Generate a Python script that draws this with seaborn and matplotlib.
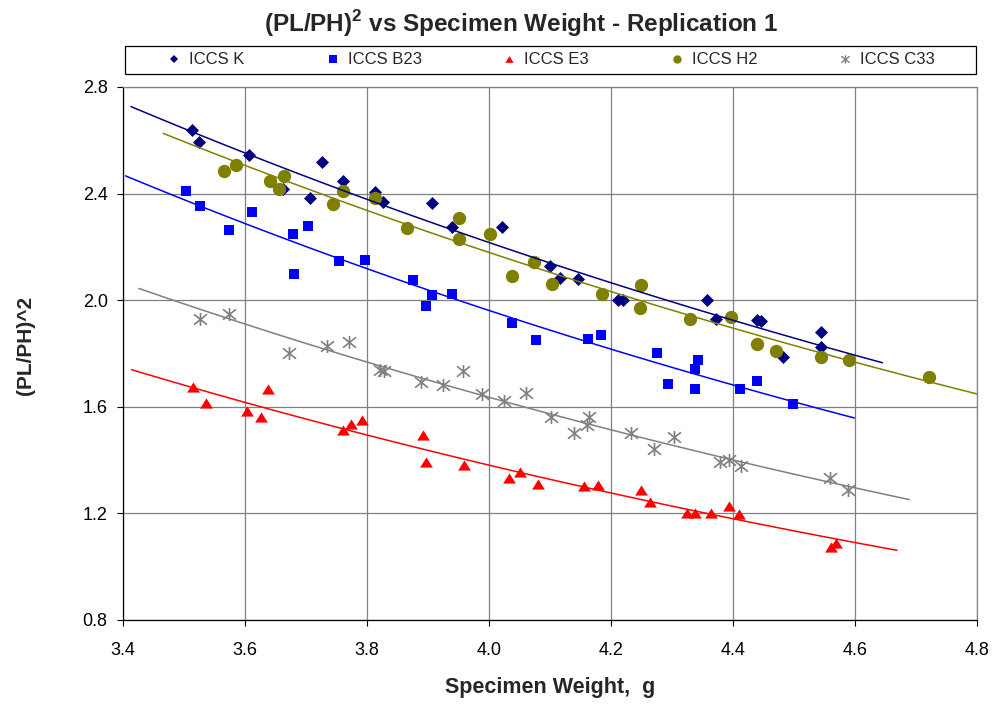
import numpy as np
import pandas as pd
import matplotlib
matplotlib.use("Agg")
import matplotlib.pyplot as plt
import seaborn as sns
from matplotlib.path import Path
from matplotlib.patches import Rectangle
from matplotlib.lines import Line2D

# ---------------- data ----------------
series_names = ["ICCS K", "ICCS B23", "ICCS E3", "ICCS H2", "ICCS C33"]

k_x = [3.513, 3.525, 3.607, 3.663, 3.707, 3.727, 3.761, 3.813, 3.827, 3.906,
       3.940, 4.021, 4.100, 4.116, 4.146, 4.212, 4.220, 4.358, 4.372, 4.440,
       4.446, 4.482, 4.544, 4.545]
k_y = [2.640, 2.592, 2.543, 2.418, 2.382, 2.518, 2.449, 2.406, 2.368, 2.366,
       2.274, 2.274, 2.130, 2.083, 2.081, 2.002, 2.000, 1.999, 1.931, 1.924,
       1.922, 1.787, 1.824, 1.881]

b23_x = [3.504, 3.526, 3.574, 3.611, 3.678, 3.681, 3.703, 3.754, 3.796, 3.875,
         3.896, 3.907, 3.940, 4.038, 4.077, 4.162, 4.184, 4.276, 4.294, 4.337,
         4.338, 4.342, 4.411, 4.440, 4.499]
b23_y = [2.411, 2.355, 2.265, 2.332, 2.250, 2.100, 2.280, 2.148, 2.151, 2.077,
         1.980, 2.019, 2.022, 1.916, 1.852, 1.854, 1.869, 1.801, 1.685, 1.665,
         1.743, 1.774, 1.668, 1.697, 1.610]

e3_x = [3.514, 3.536, 3.603, 3.627, 3.638, 3.760, 3.774, 3.792, 3.891, 3.897,
        3.959, 4.032, 4.051, 4.080, 4.156, 4.178, 4.249, 4.264, 4.324, 4.338,
        4.364, 4.394, 4.410, 4.560, 4.569]
e3_y = [1.674, 1.614, 1.584, 1.562, 1.667, 1.512, 1.534, 1.552, 1.493, 1.391,
        1.380, 1.331, 1.356, 1.312, 1.302, 1.306, 1.287, 1.241, 1.200, 1.200,
        1.200, 1.228, 1.197, 1.074, 1.089]

h2_x = [3.566, 3.585, 3.641, 3.655, 3.664, 3.745, 3.760, 3.813, 3.865, 3.951,
        3.951, 4.001, 4.038, 4.074, 4.104, 4.185, 4.248, 4.249, 4.330, 4.396,
        4.440, 4.470, 4.545, 4.590, 4.721]
h2_y = [2.484, 2.506, 2.447, 2.418, 2.467, 2.362, 2.408, 2.385, 2.271, 2.308,
        2.229, 2.250, 2.090, 2.143, 2.059, 2.023, 1.971, 2.057, 1.931, 1.937,
        1.834, 1.809, 1.785, 1.775, 1.712]

c33_x = [3.526, 3.574, 3.672, 3.734, 3.771, 3.821, 3.828, 3.888, 3.925, 3.957,
         3.988, 4.025, 4.061, 4.101, 4.139, 4.160, 4.164, 4.233, 4.271, 4.303,
         4.379, 4.394, 4.413, 4.559, 4.589]
c33_y = [1.928, 1.950, 1.800, 1.827, 1.843, 1.737, 1.733, 1.692, 1.683, 1.733,
         1.647, 1.622, 1.653, 1.562, 1.500, 1.531, 1.562, 1.500, 1.443, 1.487,
         1.393, 1.402, 1.377, 1.333, 1.287]

x_ticks = [3.4, 3.6, 3.8, 4.0, 4.2, 4.4, 4.6, 4.8]
y_ticks = [0.8, 1.2, 1.6, 2.0, 2.4, 2.8]
trend_extend = 0.1   # exponential trendline forecast forward / backward

# ---------------- styling ----------------
sns.set_theme(style="white")
plt.rcParams['font.family'] = ['Liberation Sans', 'DejaVu Sans']
plt.rcParams['mathtext.fontset'] = 'custom'
plt.rcParams['mathtext.rm'] = 'Liberation Sans'
plt.rcParams['mathtext.bf'] = 'Liberation Sans:bold'

colors = ["#000080", "#0000FF", "#FF0000", "#808000", "#808080"]

tri_marker = Path([(0, 0.8), (-1, -0.8), (1, -0.8), (0, 0.8)],
                  [Path.MOVETO, Path.LINETO, Path.LINETO, Path.CLOSEPOLY])
star_marker = Path([(0, -1), (0, 1), (-1, -0.8), (1, 0.8), (-1, 0.8), (1, -0.8)],
                   [Path.MOVETO, Path.LINETO, Path.MOVETO, Path.LINETO,
                    Path.MOVETO, Path.LINETO])
markers = ["D", "s", tri_marker, "o", star_marker]
sizes = [44, 60, 84, 92, 88]
leg_ms = [4.2, 5.4, 6.0, 6.0, 6.0]

xs_all = [k_x, b23_x, e3_x, h2_x, c33_x]
ys_all = [k_y, b23_y, e3_y, h2_y, c33_y]

fig = plt.figure(figsize=(9.96, 7.06), dpi=100, facecolor="white")
ax = fig.add_axes([123/996, 1-620/706, 854/996, 533/706])
ax.set_facecolor("white")

for i in range(5):
    df = pd.DataFrame({"x": xs_all[i], "y": ys_all[i]})
    is_star = i == 4
    sns.scatterplot(data=df, x="x", y="y", marker=markers[i], s=sizes[i],
                    color=colors[i], edgecolor=colors[i],
                    linewidth=1.2 if is_star else 0, ax=ax, legend=False,
                    zorder=3)

# exponential trendlines (y = a * exp(b x)), fitted to each series
for i in range(5):
    x = np.array(xs_all[i]); y = np.array(ys_all[i])
    b, ln_a = np.polyfit(x, np.log(y), 1)
    xg = np.linspace(x.min() - trend_extend, x.max() + trend_extend, 120)
    tdf = pd.DataFrame({"x": xg, "y": np.exp(ln_a + b * xg)})
    sns.lineplot(data=tdf, x="x", y="y", color=colors[i], lw=1.1, ax=ax,
                 zorder=4, legend=False)

ax.set_xlim(3.4, 4.8)
ax.set_ylim(0.8, 2.8)
ax.set_xticks(x_ticks)
ax.set_yticks(y_ticks)
ax.set_xticklabels([f"{v:.1f}" for v in x_ticks])
ax.set_yticklabels([f"{v:.1f}" for v in y_ticks])
ax.grid(True, color="#808080", lw=0.9, zorder=0)
ax.set_axisbelow(True)
ax.tick_params(axis="both", which="major", direction="out", length=4.5,
               width=0.8, color="black", labelsize=13, labelcolor="black",
               bottom=True, left=True)
ax.tick_params(axis="x", pad=11.5)
ax.tick_params(axis="y", pad=6.5)
for side in ["left", "bottom"]:
    ax.spines[side].set_color("black"); ax.spines[side].set_linewidth(0.9)
for side in ["top", "right"]:
    ax.spines[side].set_color("#808080"); ax.spines[side].set_linewidth(0.9)
for sp in ax.spines.values():
    sp.set_visible(True)

ax.set_xlabel("Specimen Weight,  g", fontsize=15.5, fontweight="bold")
ax.set_ylabel("(PL/PH)^2", fontsize=15, fontweight="bold")
ax.xaxis.set_label_coords(0.5, -(688-620)/533)
ax.xaxis.label.set_va("center")
ax.yaxis.set_label_coords((25-123)/854, (620-345)/533)
ax.yaxis.label.set_va("center")

fig.text(521/996, 1-24/706,
         r"(PL/PH)$^{\mathbf{2}}$ vs Specimen Weight - Replication 1",
         ha="center", va="center", fontsize=17.5, fontweight="bold")

# legend box above the plot
ax.add_patch(Rectangle((0.0023, (87-74)/533 + 1), 0.9965, 28/533,
                       transform=ax.transAxes, fill=False, edgecolor="black",
                       lw=0.9, clip_on=False, zorder=5))
handles = []
for i in range(5):
    handles.append(Line2D([], [], linestyle="none", marker=markers[i],
                          markersize=leg_ms[i], color=colors[i],
                          markerfacecolor=colors[i], markeredgecolor=colors[i],
                          markeredgewidth=1.0 if i == 4 else 0))
ax.legend(handles, series_names, loc="center", mode="expand", ncol=5,
          bbox_to_anchor=((166-123)/854, 1 + (87-74)/533, (935-166)/854, 28/533),
          frameon=False, borderpad=0, borderaxespad=0, handlelength=1.0,
          handletextpad=0.4, fontsize=12, markerscale=1.0)

fig.savefig("out.png", dpi=100, facecolor="white")
